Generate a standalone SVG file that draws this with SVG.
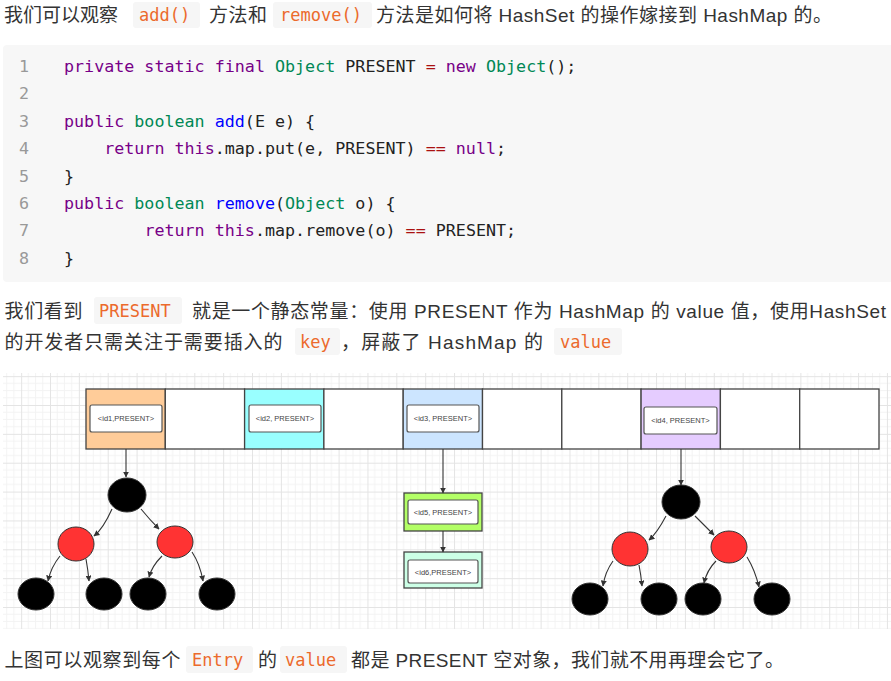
<svg xmlns="http://www.w3.org/2000/svg" width="891" height="681" viewBox="0 0 891 681">
<style>
.t{font-family:"Liberation Sans","Noto Sans CJK SC",sans-serif;font-size:19px;fill:#333}
.ic{font-family:"DejaVu Sans Mono","Liberation Mono",monospace;font-size:17px;fill:#ec6a2c}
.icb{fill:#f6f6f6}
.code{font-family:"DejaVu Sans Mono","Liberation Mono",monospace;font-size:16.7px;fill:#222}
.ln{fill:#999}
.kw{fill:#770088}
.ty{fill:#008855}
.fn{fill:#0000ff}
.op{fill:#aa1111}
.cell{stroke:#444;stroke-width:1.3}
.inner{fill:#fff;stroke:#555;stroke-width:1.2}
.lbl{font-family:"Liberation Sans",sans-serif;font-size:7.5px;fill:#444;text-anchor:middle}
.blk{fill:#000;stroke:#333;stroke-width:1}
.red{fill:#ff3333;stroke:#333;stroke-width:1}
.edge{fill:none;stroke:#333;stroke-width:1.1;marker-end:url(#ah)}
</style>
<defs>
<marker id="ah" viewBox="0 0 10 10" refX="9" refY="5" markerWidth="6" markerHeight="6" markerUnits="userSpaceOnUse" orient="auto">
<path d="M0,0 L10,5 L0,10 z" fill="#333"/>
</marker>
<pattern id="grid" patternUnits="userSpaceOnUse" x="50" y="405" width="28.86" height="28.86">
<path d="M7.215,0V28.86M14.43,0V28.86M21.645,0V28.86M0,7.215H28.86M0,14.43H28.86M0,21.645H28.86" stroke="#f3f3f3" stroke-width="1" fill="none"/>
<path d="M0.5,0V28.86M0,0.5H28.86" stroke="#e4e4e4" stroke-width="1" fill="none"/>
</pattern>
</defs>
<rect width="891" height="681" fill="#fff"/>

<!-- line 1 -->
<g id="text1">
<text class="t" x="4" y="22" textLength="114">我们可以观察</text>
<rect class="icb" x="133" y="2" width="67" height="26" rx="3"/>
<text class="ic" x="139" y="21">add()</text>
<text class="t" x="209" y="22" textLength="58">方法和</text>
<rect class="icb" x="273" y="2" width="99" height="26" rx="3"/>
<text class="ic" x="280" y="21">remove()</text>
<text class="t" x="376" y="22" textLength="456" lengthAdjust="spacing">方法是如何将 HashSet 的操作嫁接到 HashMap 的。</text>
</g>

<!-- code block -->
<g id="code">
<rect x="3" y="45" width="892" height="237" rx="4" fill="#f7f7f7"/>
<text class="code ln" x="19" y="72">1</text>
<text class="code ln" x="19" y="99.4">2</text>
<text class="code ln" x="19" y="126.8">3</text>
<text class="code ln" x="19" y="154.2">4</text>
<text class="code ln" x="19" y="181.6">5</text>
<text class="code ln" x="19" y="209">6</text>
<text class="code ln" x="19" y="236.4">7</text>
<text class="code ln" x="19" y="263.8">8</text>
<text class="code" x="64" y="72"><tspan class="kw">private static final</tspan> <tspan class="ty">Object</tspan> PRESENT <tspan class="op">=</tspan> <tspan class="kw">new</tspan> <tspan class="ty">Object</tspan>();</text>
<text class="code" x="64" y="126.8"><tspan class="kw">public</tspan> <tspan class="ty">boolean</tspan> <tspan class="fn">add</tspan>(E e) {</text>
<text class="code" x="104.2" y="154.2"><tspan class="kw">return</tspan> <tspan class="kw">this</tspan>.map.put(e, PRESENT) <tspan class="op">==</tspan> <tspan class="kw">null</tspan>;</text>
<text class="code" x="64" y="181.6">}</text>
<text class="code" x="64" y="209"><tspan class="kw">public</tspan> <tspan class="ty">boolean</tspan> <tspan class="fn">remove</tspan>(<tspan class="ty">Object</tspan> o) {</text>
<text class="code" x="144.4" y="236.4"><tspan class="kw">return</tspan> <tspan class="kw">this</tspan>.map.remove(o) <tspan class="op">==</tspan> PRESENT;</text>
<text class="code" x="64" y="263.8">}</text>
</g>

<!-- paragraph 2 -->
<g id="text2">
<text class="t" x="4.5" y="318" textLength="78">我们看到</text>
<rect class="icb" x="94" y="297" width="88" height="27" rx="3"/>
<text class="ic" x="99" y="317">PRESENT</text>
<text class="t" x="192" y="318" textLength="694" lengthAdjust="spacing">就是一个静态常量：使用 PRESENT 作为 HashMap 的 value 值，使用HashSet</text>
<text class="t" x="4.5" y="349" textLength="278">的开发者只需关注于需要插入的</text>
<rect class="icb" x="295" y="328" width="45" height="27" rx="3"/>
<text class="ic" x="300" y="348">key</text>
<text class="t" x="341" y="349" textLength="202" lengthAdjust="spacing">，屏蔽了 HashMap 的</text>
<rect class="icb" x="554" y="328" width="68" height="27" rx="3"/>
<text class="ic" x="560" y="348">value</text>
</g>

<!-- grid background -->
<rect x="3" y="373" width="888" height="256" fill="url(#grid)"/>

<!-- array -->
<g id="array">
<rect class="cell" x="86" y="389" width="79.3" height="60" fill="#ffcc99"/>
<rect class="cell" x="165.3" y="389" width="79.3" height="60" fill="#fff"/>
<rect class="cell" x="244.6" y="389" width="79.3" height="60" fill="#99ffff"/>
<rect class="cell" x="323.9" y="389" width="79.3" height="60" fill="#fff"/>
<rect class="cell" x="403.2" y="389" width="79.3" height="60" fill="#cce5ff"/>
<rect class="cell" x="482.5" y="389" width="79.3" height="60" fill="#fff"/>
<rect class="cell" x="561.8" y="389" width="79.3" height="60" fill="#fff"/>
<rect class="cell" x="641.1" y="389" width="79.3" height="60" fill="#e5ccff"/>
<rect class="cell" x="720.4" y="389" width="79.3" height="60" fill="#fff"/>
<rect class="cell" x="799.7" y="389" width="79.3" height="60" fill="#fff"/>
</g>
<g id="entry1">
<rect class="inner" x="90" y="405" width="72" height="27" rx="2"/>
<text class="lbl" x="126" y="421">&lt;id1,PRESENT&gt;</text>
</g>
<g id="entry2">
<rect class="inner" x="249" y="405" width="72" height="27" rx="2"/>
<text class="lbl" x="285" y="421">&lt;id2, PRESENT&gt;</text>
</g>
<g id="entry3">
<rect class="inner" x="407" y="405" width="72" height="27" rx="2"/>
<text class="lbl" x="443" y="421">&lt;id3, PRESENT&gt;</text>
</g>
<g id="entry4">
<rect class="inner" x="644" y="407" width="73" height="27" rx="2"/>
<text class="lbl" x="680.5" y="423">&lt;id4, PRESENT&gt;</text>
</g>

<!-- list nodes -->
<g id="entry5">
<rect class="cell" x="404" y="493" width="78" height="38" fill="#b3ff66"/>
<rect class="inner" x="408" y="500" width="70" height="24" rx="2"/>
<text class="lbl" x="443" y="515">&lt;id5, PRESENT&gt;</text>
</g>
<g id="entry6">
<rect class="cell" x="404" y="552" width="78" height="36" fill="#ccffe6"/>
<rect class="inner" x="408" y="560" width="70" height="23" rx="2"/>
<text class="lbl" x="443" y="574.5">&lt;id6,PRESENT&gt;</text>
</g>

<!-- left tree -->
<g id="tree1-root"><ellipse class="blk" cx="127" cy="495" rx="19" ry="17"/></g>
<g id="tree1-l"><ellipse class="red" cx="76" cy="544" rx="18" ry="17"/></g>
<g id="tree1-r"><ellipse class="red" cx="175" cy="542" rx="18" ry="16"/></g>
<g id="tree1-ll"><ellipse class="blk" cx="36" cy="594" rx="18" ry="16"/></g>
<g id="tree1-lr"><ellipse class="blk" cx="104" cy="594" rx="18" ry="16"/></g>
<g id="tree1-rl"><ellipse class="blk" cx="148" cy="594" rx="18" ry="16"/></g>
<g id="tree1-rr"><ellipse class="blk" cx="217" cy="594" rx="18" ry="16"/></g>

<!-- right tree -->
<g id="tree2-root"><ellipse class="blk" cx="681" cy="502" rx="19" ry="17"/></g>
<g id="tree2-l"><ellipse class="red" cx="630" cy="549" rx="18" ry="17"/></g>
<g id="tree2-r"><ellipse class="red" cx="729" cy="547" rx="18" ry="16"/></g>
<g id="tree2-ll"><ellipse class="blk" cx="590" cy="599" rx="18" ry="16"/></g>
<g id="tree2-lr"><ellipse class="blk" cx="659" cy="599" rx="18" ry="16"/></g>
<g id="tree2-rl"><ellipse class="blk" cx="703" cy="599" rx="18" ry="16"/></g>
<g id="tree2-rr"><ellipse class="blk" cx="772" cy="599" rx="18" ry="16"/></g>

<!-- connectors -->
<g id="connectors">
<path class="edge" d="M126,449 V477"/>
<path class="edge" d="M443,449 V493"/>
<path class="edge" d="M443,531 V552"/>
<path class="edge" d="M681,449 V485"/>
<path class="edge" d="M112,509 Q103,529 94,536"/>
<path class="edge" d="M141,509 Q150,520 159,529"/>
<path class="edge" d="M60,556 Q51,567 48,581"/>
<path class="edge" d="M86,559 Q88,570 89,581"/>
<path class="edge" d="M162,556 Q152,566 149,577"/>
<path class="edge" d="M192,552 Q200,564 203,581"/>
<path class="edge" d="M666,516 Q657,533 649,540"/>
<path class="edge" d="M695,516 Q705,526 714,535"/>
<path class="edge" d="M613,561 Q605,572 603,586"/>
<path class="edge" d="M639,565 Q641,575 642,586"/>
<path class="edge" d="M716,561 Q707,570 704,583"/>
<path class="edge" d="M747,557 Q755,570 759,587"/>
</g>

<!-- bottom line -->
<g id="text3">
<text class="t" x="4.5" y="667" textLength="176">上图可以观察到每个</text>
<rect class="icb" x="186" y="646" width="67" height="27" rx="3"/>
<text class="ic" x="192" y="666">Entry</text>
<text class="t" x="258" y="667">的</text>
<rect class="icb" x="280" y="646" width="67" height="27" rx="3"/>
<text class="ic" x="285" y="666">value</text>
<text class="t" x="351" y="667" textLength="433" lengthAdjust="spacing">都是 PRESENT 空对象，我们就不用再理会它了。</text>
</g>
</svg>
